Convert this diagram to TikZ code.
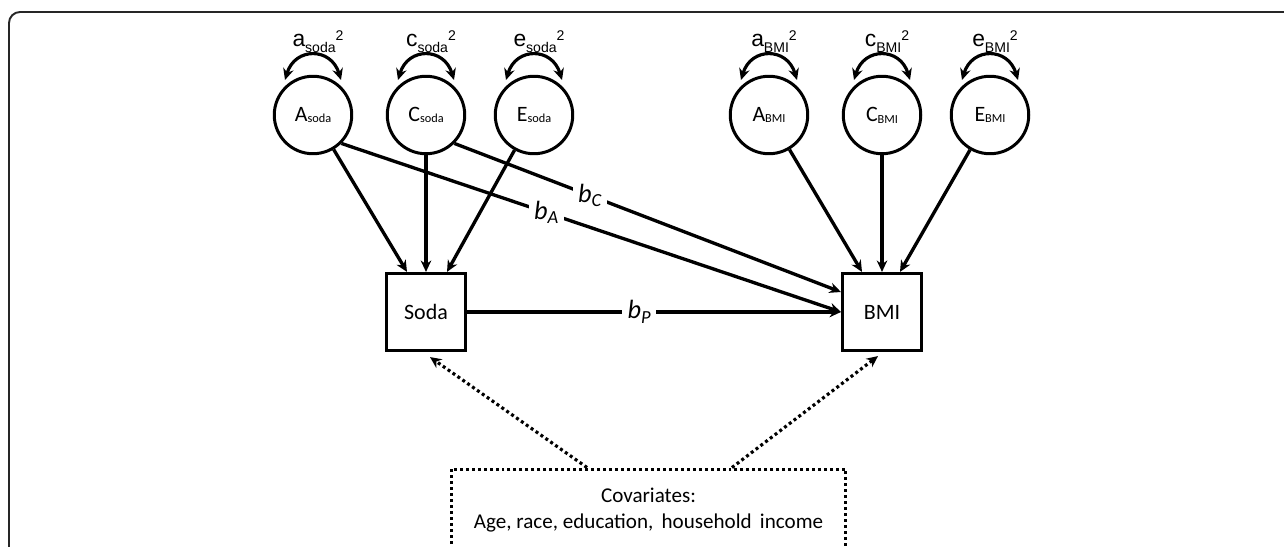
\documentclass[tikz,border=0pt]{standalone}
\usepackage{fontspec}
\setmainfont{Carlito}
\newfontfamily\arialfont{Liberation Sans}
\usetikzlibrary{arrows.meta,calc}

% small indices
\newcommand\latlab[2]{#1\raisebox{-1pt}{\fontsize{7}{7}\selectfont #2}}
\newcommand\varlab[2]{#1\raisebox{-3.2pt}{\fontsize{8}{8}\selectfont #2}\raisebox{3.8pt}{\fontsize{8}{8}\selectfont 2}}
\newcommand\coefflab[1]{b\raisebox{-2.5pt}{\fontsize{10.5}{10.5}\selectfont #1}}

\tikzset{
  latent/.style={circle, draw, line width=1.7pt, minimum size=1.55cm, inner sep=0pt,
    font=\fontsize{12.5}{14}\selectfont},
  observed/.style={rectangle, draw, line width=1.8pt, minimum width=1.58cm,
    minimum height=1.54cm, font=\fontsize{12.5}{15}\selectfont},
  covbox/.style={rectangle, draw, line width=1.7pt, dash pattern=on 1.7pt off 1.7pt,
    minimum width=7.9cm, minimum height=1.64cm, align=center,
    font=\fontsize{12}{14.8}\selectfont},
  varlabel/.style={inner sep=0pt, font=\arialfont\fontsize{13}{15}\selectfont},
  coeff/.style={fill=white, inner sep=3pt, font=\fontsize{15}{16}\selectfont\itshape},
  edgeline/.style={->, line width=1.9pt},
  dotarrow/.style={->, line width=1.8pt, dash pattern=on 1.7pt off 1.7pt}
}

\begin{document}
\begin{tikzpicture}[x=0.02cm, y=-0.02cm,
    >={Stealth[length=6.5pt,width=6pt]}]
  \clip (0,0) rectangle (1284,547);
  % frame
  \draw[line width=1.1pt, black!85, rounded corners=0.22cm] (9,570) -- (9,12) -- (1310,12);

  % latent factors
  \node[latent] (Asoda) at (313,115) {\latlab{A}{soda}};
  \node[latent] (Csoda) at (426,115) {\latlab{C}{soda}};
  \node[latent] (Esoda) at (534,115) {\latlab{E}{soda}};
  \node[latent] (Abmi) at (769,115) {\latlab{A}{BMI}};
  \node[latent] (Cbmi) at (882,115) {\latlab{C}{BMI}};
  \node[latent] (Ebmi) at (990,115) {\latlab{E}{BMI}};

  % observed
  \node[observed] (soda) at (426,312) {Soda};
  \node[observed] (bmi) at (882,312) {BMI};
  \node[covbox] (cov) at (648.5,510) {Covariates:\\Age, race, education,\, household\, income};

  % variances
  \foreach \n/\lab in {Asoda/\varlab{a}{soda}, Csoda/\varlab{c}{soda}, Esoda/\varlab{e}{soda},
                       Abmi/\varlab{a}{BMI}, Cbmi/\varlab{c}{BMI}, Ebmi/\varlab{e}{BMI}}
  {
    \draw[<->, line width=1.8pt] ($(\n)+(-28,-35)$) .. controls ($(\n)+(-18,-68)$) and ($(\n)+(18,-68)$) .. ($(\n)+(28,-35)$);
    \node[varlabel, anchor=base] (var\n) at ($(\n)+(5,-68)$) {\lab};
  }

  % paths
  \draw[edgeline] (Asoda) -- ($(soda.north)+(-19,0)$);
  \draw[edgeline] (Csoda) -- (soda.north);
  \draw[edgeline] (Esoda) -- ($(soda.north)+(21,0)$);
  \draw[edgeline] (Abmi) -- ($(bmi.north)+(-20,0)$);
  \draw[edgeline] (Cbmi) -- (bmi.north);
  \draw[edgeline] (Ebmi) -- ($(bmi.north)+(18,0)$);
  \draw[edgeline] (Asoda.south east) -- node[coeff, pos=0.41] (bA) {\coefflab{A}} (bmi.west);
  \draw[edgeline] (Csoda.south east) -- node[coeff, pos=0.35] (bC) {\coefflab{C}} ($(bmi.west)+(0,-20)$);
  \draw[edgeline] (soda) -- node[coeff, pos=0.46] (bP) {\coefflab{P}} (bmi);

  % covariates
  \draw[dotarrow] ($(cov.north)+(-61.5,0)$) -- ($(soda.south)+(4,5)$);
  \draw[dotarrow] ($(cov.north)+(83.5,0)$) -- ($(bmi.south)+(-4,4)$);
\end{tikzpicture}
\end{document}
